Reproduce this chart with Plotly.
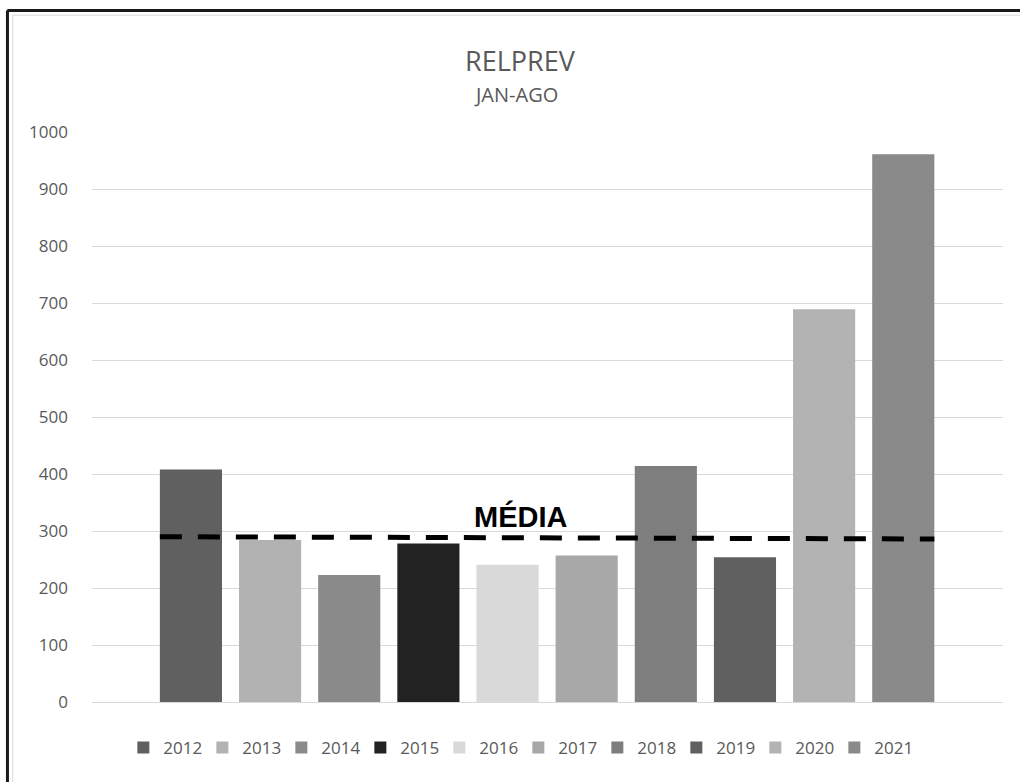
import plotly.graph_objects as go

years = ["2012", "2013", "2014", "2015", "2016", "2017", "2018", "2019", "2020", "2021"]
values = [408, 284, 223, 278, 241, 257, 414, 254, 689, 961]
colors = ["#606060", "#b2b2b2", "#8a8a8a", "#222222", "#d9d9d9",
          "#a8a8a8", "#7e7e7e", "#606060", "#b3b3b3", "#8a8a8a"]
media_vals = [290, 286]
media_label = "MÉDIA"
title = "RELPREV"
subtitle = "JAN-AGO"
y_ticks = [0, 100, 200, 300, 400, 500, 600, 700, 800, 900, 1000]

BAR_W = 0.785
positions = list(range(len(years)))

fig = go.Figure()
for pos, yr, val, col in zip(positions, years, values, colors):
    fig.add_trace(go.Bar(
        x=[pos], y=[val], name=yr, width=BAR_W,
        marker=dict(color=col, line=dict(width=0)),
        showlegend=True,
    ))

fig.add_trace(go.Scatter(
    x=[positions[0] - BAR_W / 2, positions[-1] + BAR_W / 2],
    y=media_vals, mode="lines",
    line=dict(color="black", width=5, dash="22px,16px"),
    showlegend=False, hoverinfo="skip",
))

fig.add_annotation(
    x=4.17, y=326, xref="x", yref="y", text="<b>" + media_label + "</b>",
    showarrow=False, font=dict(family="Liberation Sans, Arial", size=29, color="black"),
)

fig.add_annotation(
    x=0.47, y=1.125, xref="paper", yref="paper", text=title, showarrow=False,
    font=dict(family="Open Sans", size=27, color="#595959"), yanchor="middle",
)
fig.add_annotation(
    x=0.465, y=1.065, xref="paper", yref="paper", text=subtitle, showarrow=False,
    font=dict(family="Open Sans", size=20, color="#595959"), yanchor="middle",
)

# outer frame (black) and inner chart-area border (light gray)
fig.add_shape(type="line", xref="paper", yref="paper", x0=-0.093, x1=1.05, y0=1.2132, y1=1.2132,
              line=dict(color="#1a1a1a", width=3))
fig.add_shape(type="line", xref="paper", yref="paper", x0=-0.0928, x1=-0.0928, y0=-0.2, y1=1.2132,
              line=dict(color="#1a1a1a", width=3))
fig.add_shape(type="line", xref="paper", yref="paper", x0=-0.087, x1=1.05, y0=1.205, y1=1.205,
              line=dict(color="#d9d9d9", width=1))
fig.add_shape(type="line", xref="paper", yref="paper", x0=-0.087, x1=-0.087, y0=-0.2, y1=1.205,
              line=dict(color="#d9d9d9", width=1))

fig.update_layout(
    width=1020, height=782,
    margin=dict(l=92, r=17, t=132, b=80, autoexpand=False),
    paper_bgcolor="white", plot_bgcolor="white",
    barmode="overlay",
    font=dict(family="Open Sans", size=17, color="#595959"),
    xaxis=dict(range=[-1.25, 10.26], showticklabels=False, showgrid=False,
               zeroline=False, showline=False, ticks=""),
    yaxis=dict(range=[0, 1000], tickvals=y_ticks, showgrid=True, gridcolor="#d9d9d9",
               gridwidth=1, zeroline=True, zerolinecolor="#d9d9d9", zerolinewidth=1,
               showline=False, ticks="", ticklabelstandoff=23,
               tickfont=dict(family="Open Sans", size=17, color="#595959")),
    legend=dict(orientation="h", x=0.468, xanchor="center", y=-0.0807, yanchor="middle",
                entrywidth=34, entrywidthmode="pixels", itemwidth=30,
                font=dict(family="Open Sans", size=17, color="#595959"),
                bgcolor="rgba(0,0,0,0)"),
    showlegend=True,
)

fig.write_html("out.html")
